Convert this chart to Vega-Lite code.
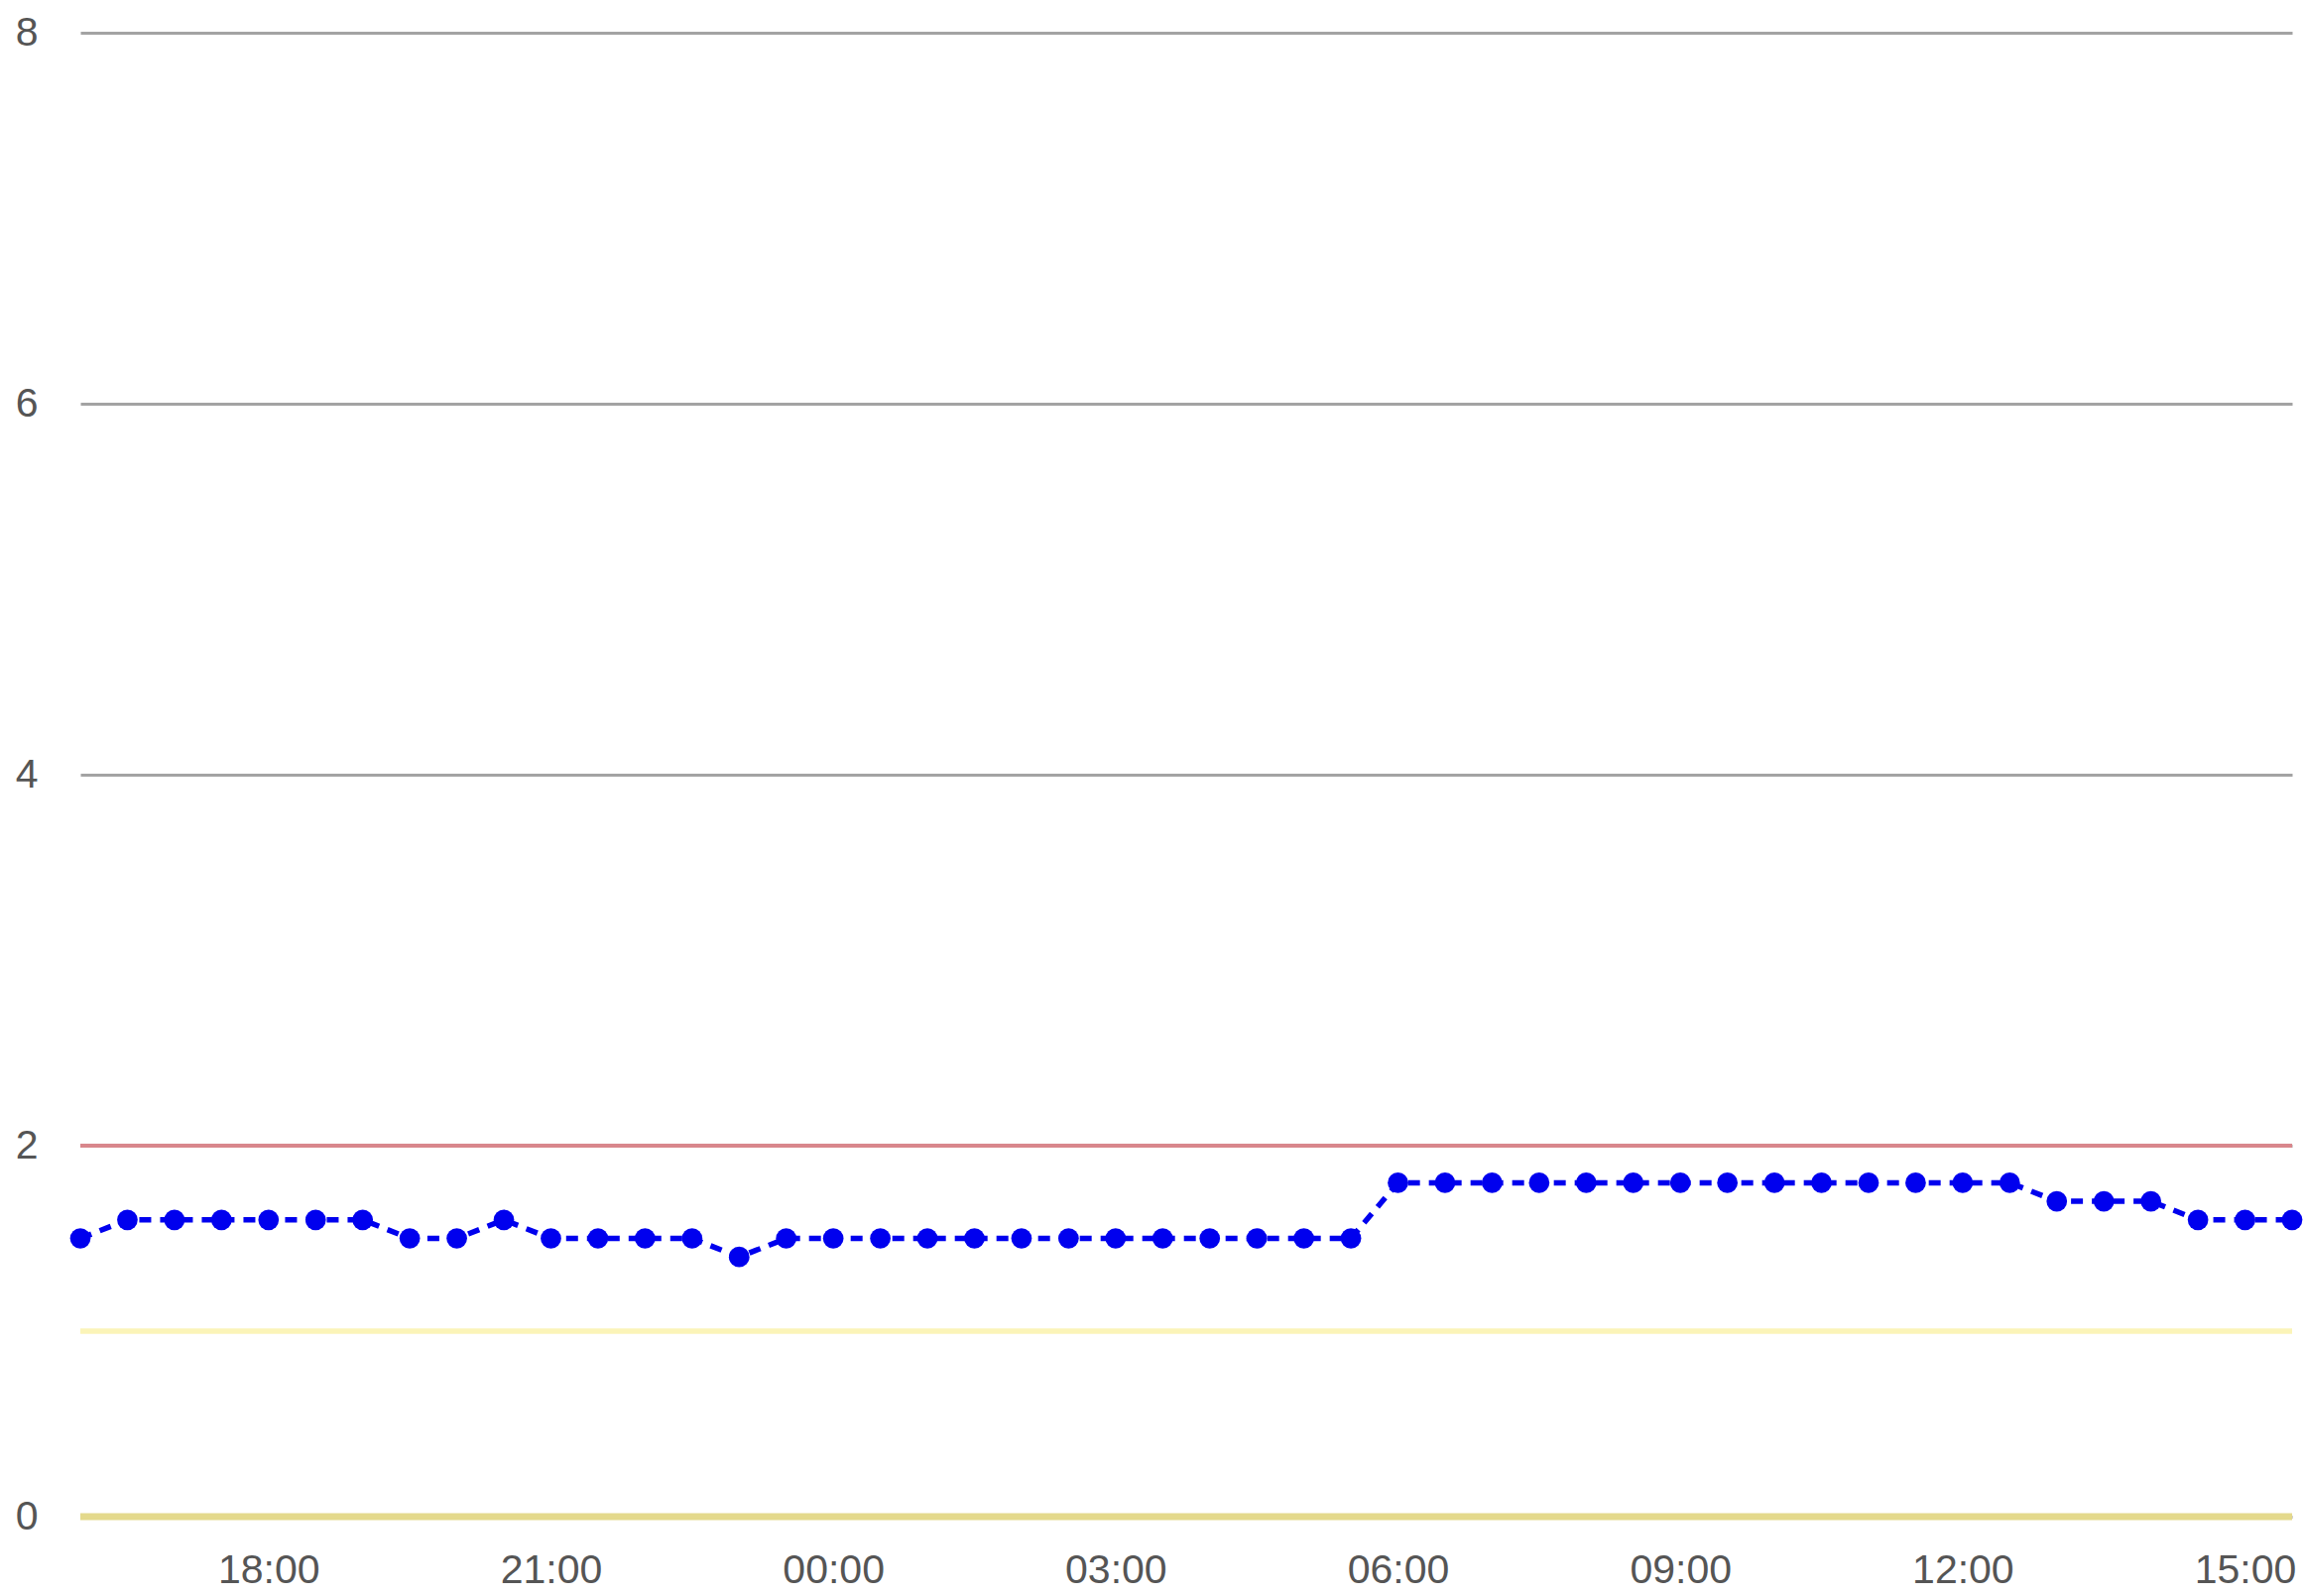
{
  "$schema": "https://vega.github.io/schema/vega-lite/v6.json",
  "autosize": "none",
  "width": 2230,
  "height": 1496,
  "padding": {"left": 81, "top": 33, "right": 12, "bottom": 80},
  "background": "#ffffff",
  "config": {
    "view": {"stroke": null},
    "axis": {
      "labelFont": "Liberation Sans",
      "labelFontSize": 41,
      "labelColor": "#555555",
      "domain": false,
      "ticks": false,
      "title": null
    }
  },
  "datasets": {
    "series": [
      {"t": "2024-05-01T16:00:00Z", "v": 1.5},
      {"t": "2024-05-01T16:30:00Z", "v": 1.6},
      {"t": "2024-05-01T17:00:00Z", "v": 1.6},
      {"t": "2024-05-01T17:30:00Z", "v": 1.6},
      {"t": "2024-05-01T18:00:00Z", "v": 1.6},
      {"t": "2024-05-01T18:30:00Z", "v": 1.6},
      {"t": "2024-05-01T19:00:00Z", "v": 1.6},
      {"t": "2024-05-01T19:30:00Z", "v": 1.5},
      {"t": "2024-05-01T20:00:00Z", "v": 1.5},
      {"t": "2024-05-01T20:30:00Z", "v": 1.6},
      {"t": "2024-05-01T21:00:00Z", "v": 1.5},
      {"t": "2024-05-01T21:30:00Z", "v": 1.5},
      {"t": "2024-05-01T22:00:00Z", "v": 1.5},
      {"t": "2024-05-01T22:30:00Z", "v": 1.5},
      {"t": "2024-05-01T23:00:00Z", "v": 1.4},
      {"t": "2024-05-01T23:30:00Z", "v": 1.5},
      {"t": "2024-05-02T00:00:00Z", "v": 1.5},
      {"t": "2024-05-02T00:30:00Z", "v": 1.5},
      {"t": "2024-05-02T01:00:00Z", "v": 1.5},
      {"t": "2024-05-02T01:30:00Z", "v": 1.5},
      {"t": "2024-05-02T02:00:00Z", "v": 1.5},
      {"t": "2024-05-02T02:30:00Z", "v": 1.5},
      {"t": "2024-05-02T03:00:00Z", "v": 1.5},
      {"t": "2024-05-02T03:30:00Z", "v": 1.5},
      {"t": "2024-05-02T04:00:00Z", "v": 1.5},
      {"t": "2024-05-02T04:30:00Z", "v": 1.5},
      {"t": "2024-05-02T05:00:00Z", "v": 1.5},
      {"t": "2024-05-02T05:30:00Z", "v": 1.5},
      {"t": "2024-05-02T06:00:00Z", "v": 1.8},
      {"t": "2024-05-02T06:30:00Z", "v": 1.8},
      {"t": "2024-05-02T07:00:00Z", "v": 1.8},
      {"t": "2024-05-02T07:30:00Z", "v": 1.8},
      {"t": "2024-05-02T08:00:00Z", "v": 1.8},
      {"t": "2024-05-02T08:30:00Z", "v": 1.8},
      {"t": "2024-05-02T09:00:00Z", "v": 1.8},
      {"t": "2024-05-02T09:30:00Z", "v": 1.8},
      {"t": "2024-05-02T10:00:00Z", "v": 1.8},
      {"t": "2024-05-02T10:30:00Z", "v": 1.8},
      {"t": "2024-05-02T11:00:00Z", "v": 1.8},
      {"t": "2024-05-02T11:30:00Z", "v": 1.8},
      {"t": "2024-05-02T12:00:00Z", "v": 1.8},
      {"t": "2024-05-02T12:30:00Z", "v": 1.8},
      {"t": "2024-05-02T13:00:00Z", "v": 1.7},
      {"t": "2024-05-02T13:30:00Z", "v": 1.7},
      {"t": "2024-05-02T14:00:00Z", "v": 1.7},
      {"t": "2024-05-02T14:30:00Z", "v": 1.6},
      {"t": "2024-05-02T15:00:00Z", "v": 1.6},
      {"t": "2024-05-02T15:30:00Z", "v": 1.6}
    ],
    "thresholds": [
      {"level": 2, "kind": "upper"},
      {"level": 1, "kind": "lower"},
      {"level": 0, "kind": "base"}
    ]
  },
  "encoding": {
    "y": {
      "field": "v", "type": "quantitative",
      "scale": {"domain": [0, 8], "nice": false},
      "axis": {
        "values": [0, 2, 4, 6, 8],
        "format": "d",
        "grid": true,
        "gridColor": "#a3a3a3",
        "gridWidth": 3,
        "labelPadding": 43
      }
    }
  },
  "layer": [
    {
      "data": {"name": "thresholds"},
      "mark": {"type": "rule"},
      "encoding": {
        "y": {"field": "level", "type": "quantitative"},
        "color": {
          "field": "kind", "type": "nominal", "legend": null,
          "scale": {"domain": ["upper", "lower", "base"], "range": ["#d9878c", "#fbf4b8", "#e4d98c"]}
        },
        "strokeWidth": {
          "field": "kind", "type": "nominal", "legend": null,
          "scale": {"domain": ["upper", "lower", "base"], "range": [4, 7, 7]}
        }
      }
    },
    {
      "data": {"name": "series"},
      "encoding": {
        "x": {
          "field": "t", "type": "temporal",
          "scale": {"type": "utc", "domain": [{"year": 2024, "month": 5, "date": 1, "hours": 16, "utc": true}, {"year": 2024, "month": 5, "date": 2, "hours": 15, "minutes": 30, "utc": true}]},
          "axis": {
            "grid": false,
            "labelExpr": "utcFormat(datum.value, '%H:%M')",
            "labelPadding": 34,
            "values": [
              {"year": 2024, "month": 5, "date": 1, "hours": 18, "utc": true},
              {"year": 2024, "month": 5, "date": 1, "hours": 21, "utc": true},
              {"year": 2024, "month": 5, "date": 2, "hours": 0, "utc": true},
              {"year": 2024, "month": 5, "date": 2, "hours": 3, "utc": true},
              {"year": 2024, "month": 5, "date": 2, "hours": 6, "utc": true},
              {"year": 2024, "month": 5, "date": 2, "hours": 9, "utc": true},
              {"year": 2024, "month": 5, "date": 2, "hours": 12, "utc": true},
              {"year": 2024, "month": 5, "date": 2, "hours": 15, "utc": true}
            ]
          }
        }
      },
      "layer": [
        {"mark": {"type": "line", "color": "#0000ee", "strokeWidth": 5.5, "strokeDash": [12, 9]}},
        {"mark": {"type": "circle", "color": "#0000ee", "opacity": 1, "size": 430}}
      ]
    }
  ]
}
